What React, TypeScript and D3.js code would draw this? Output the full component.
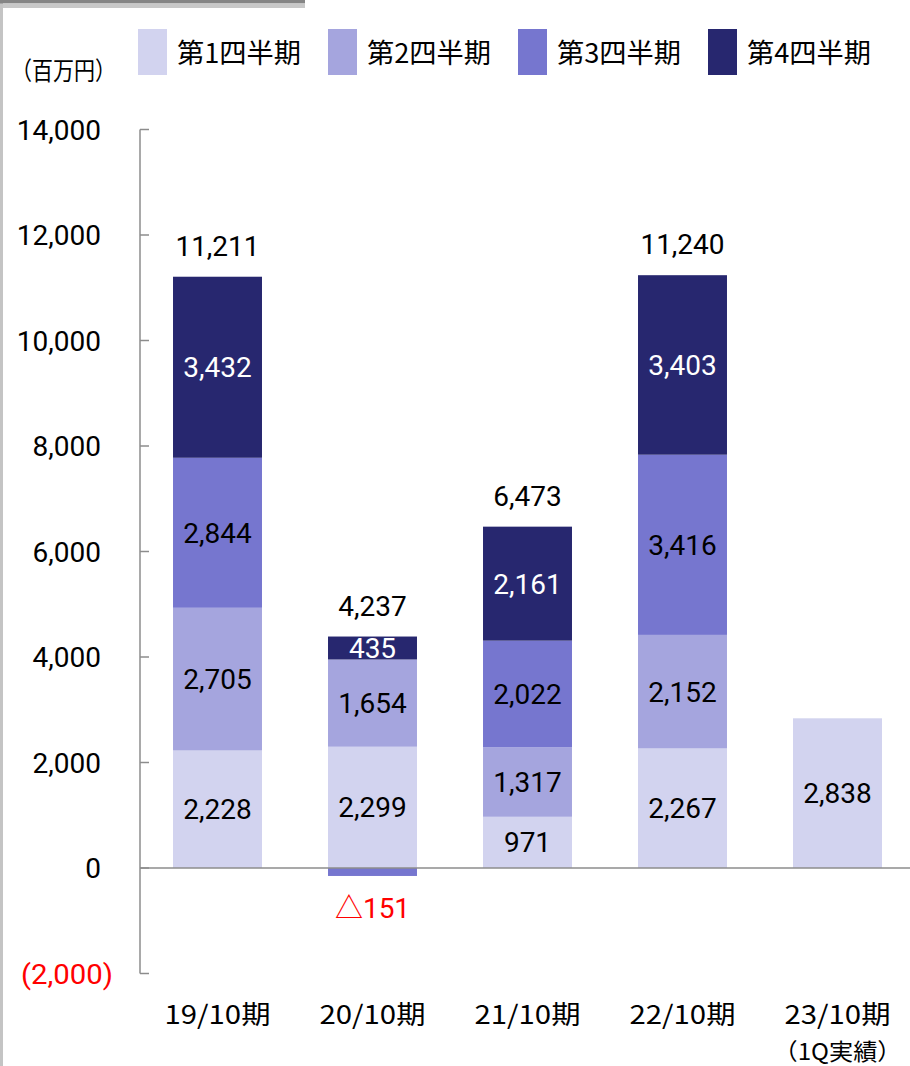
import * as d3 from "d3"

const categories = ["19/10期", "20/10期", "21/10期", "22/10期", "23/10期"]
const subLabels = ["", "", "", "", "（1Q実績）"]
const seriesNames = ["第1四半期", "第2四半期", "第3四半期", "第4四半期"]
const q1 = [2228, 2299, 971, 2267, 2838]
const q2 = [2705, 1654, 1317, 2152, 0]
const q3 = [2844, -151, 2022, 3416, 0]
const q4 = [3432, 435, 2161, 3403, 0]
const totals = [11211, 4237, 6473, 11240, null]
const yTicks = [-2000, 0, 2000, 4000, 6000, 8000, 10000, 12000, 14000]
const colors = ["#d2d3ef", "#a5a5de", "#7676cf", "#27276f"]
const labelColors = ["#000", "#000", "#000", "#fff"]

const W = 910
const H = 1066
const num = "Roboto, 'Noto Sans CJK JP', sans-serif"
const jp = "'Noto Sans CJK JP', sans-serif"

type Row = { cat: string; [k: string]: number | string }

export default function App() {
  const rows: Row[] = categories.map((c, i) => ({
    cat: c,
    s0: q1[i],
    s1: q2[i],
    s2: q3[i],
    s3: q4[i],
  }))
  const keys = ["s0", "s1", "s2", "s3"]
  const stacked = d3
    .stack<Row>()
    .keys(keys)
    .value((d, k) => d[k] as number)
    .offset(d3.stackOffsetDiverging)(rows)

  const x = d3
    .scaleBand()
    .domain(categories)
    .range([140, 915])
    .paddingInner(0.426)
    .paddingOuter(0.213)

  const y = d3.scaleLinear().domain([-2000, 14000]).range([973.5, 129.5])
  const fmt = d3.format(",")

  return (
    <svg
      width={W}
      height={H}
      viewBox={`0 0 ${W} ${H}`}
      style={{ position: "absolute", left: 0, top: 0, background: "#fff" }}
    >
      {/* frame remnants */}
      <rect x={0} y={0} width={3} height={H} fill="#c4c4c4" />
      <rect x={0} y={0} width={305} height={3.5} fill="#858585" />
      <rect x={3} y={3.5} width={302} height={4.5} fill="#c8c8c8" />

      {/* legend */}
      {seriesNames.map((n, i) => (
        <g key={n} transform={`translate(${138 + i * 190},0)`}>
          <rect x={0} y={29} width={29} height={46} fill={colors[i]} />
          <text
            x={39}
            y={63}
            fontFamily={jp}
            fontSize={27}
            textLength={124}
            lengthAdjust="spacingAndGlyphs"
            fill="#000"
          >
            {n}
          </text>
        </g>
      ))}

      <text
        x={11}
        y={80}
        fontFamily={jp}
        fontSize={25}
        textLength={105}
        lengthAdjust="spacingAndGlyphs"
        fill="#000"
      >
        （百万円）
      </text>

      {/* y axis */}
      <line x1={140} x2={140} y1={y(14000)} y2={y(-2000)} stroke="#8c8c8c" strokeWidth={1.5} />
      {yTicks.map((t) => (
        <g key={t}>
          <line x1={140} x2={149} y1={y(t)} y2={y(t)} stroke="#8c8c8c" strokeWidth={1.5} />
          {t < 0 ? (
            <text
              x={21}
              y={y(t) + 10}
              fontFamily={num}
              fontSize={28}
              fill="#ff0000"
              textLength={92}
              lengthAdjust="spacingAndGlyphs"
            >
              ({fmt(-t)})
            </text>
          ) : (
            <text
              x={101}
              y={y(t) + 10}
              textAnchor="end"
              fontFamily={num}
              fontSize={28}
              fill="#000"
            >
              {fmt(t)}
            </text>
          )}
        </g>
      ))}

      {/* bars */}
      {stacked.map((layer, si) => (
        <g key={layer.key}>
          {layer.map((d, ci) => {
            const v = (d.data[layer.key] as number) || 0
            if (v === 0) return null
            const x0 = x(categories[ci]) || 0
            const top = y(Math.max(d[0], d[1]))
            const bot = y(Math.min(d[0], d[1]))
            return (
              <rect
                key={ci}
                x={x0}
                y={top}
                width={x.bandwidth()}
                height={bot - top}
                fill={colors[si]}
              />
            )
          })}
        </g>
      ))}

      {/* zero line */}
      <line x1={140} x2={W} y1={y(0)} y2={y(0)} stroke="#8c8c8c" strokeWidth={1.5} />

      {/* segment labels */}
      {stacked.map((layer, si) => (
        <g key={layer.key}>
          {layer.map((d, ci) => {
            const v = (d.data[layer.key] as number) || 0
            if (v === 0) return null
            const cx = (x(categories[ci]) || 0) + x.bandwidth() / 2
            if (v < 0) {
              return (
                <text
                  key={ci}
                  x={cx}
                  y={y(Math.min(d[0], d[1])) + 42}
                  textAnchor="middle"
                  fontFamily={num}
                  fontSize={28}
                  fill="#ff0000"
                >
                  △{fmt(-v)}
                </text>
              )
            }
            const cy = (y(d[0]) + y(d[1])) / 2
            return (
              <text
                key={ci}
                x={cx}
                y={cy + 10}
                textAnchor="middle"
                fontFamily={num}
                fontSize={28}
                fill={labelColors[si]}
              >
                {fmt(v)}
              </text>
            )
          })}
        </g>
      ))}

      {/* totals */}
      {totals.map((t, ci) => {
        if (t == null) return null
        const cx = (x(categories[ci]) || 0) + x.bandwidth() / 2
        const top = d3.max(stacked, (l) => l[ci][1]) || 0
        return (
          <text
            key={ci}
            x={cx}
            y={y(top) - 21}
            textAnchor="middle"
            fontFamily={num}
            fontSize={28}
            fill="#000"
          >
            {fmt(t)}
          </text>
        )
      })}

      {/* category labels */}
      {categories.map((c, ci) => {
        const cx = (x(c) || 0) + x.bandwidth() / 2
        return (
          <g key={c}>
            <text
              x={cx}
              y={1024}
              textAnchor="middle"
              fontFamily={jp}
              fontSize={26}
              textLength={106}
              lengthAdjust="spacingAndGlyphs"
              fill="#000"
            >
              {c}
            </text>
            {subLabels[ci] && (
              <text
                x={cx}
                y={1060}
                textAnchor="middle"
                fontFamily={jp}
                fontSize={23}
                textLength={128}
                lengthAdjust="spacingAndGlyphs"
                fill="#000"
              >
                {subLabels[ci]}
              </text>
            )}
          </g>
        )
      })}
    </svg>
  )
}
